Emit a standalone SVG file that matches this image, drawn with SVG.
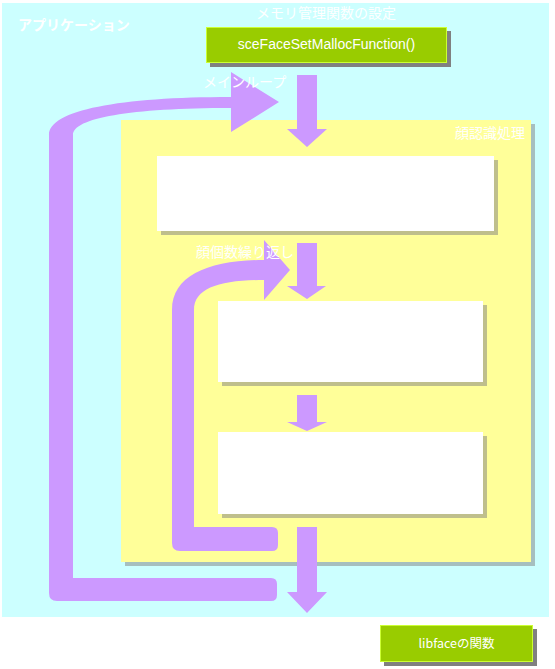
<svg xmlns="http://www.w3.org/2000/svg" width="555" height="669" viewBox="0 0 555 669">
<style>
.lbl{font-family:"Noto Sans CJK JP","Liberation Sans",sans-serif;font-size:14px;fill:#ffffff}
.lat{font-family:"Liberation Sans","Noto Sans CJK JP",sans-serif;font-size:14px;fill:#ffffff}
.small{font-size:12.5px}
.arr{fill:#cc99ff}
.shadow{fill:#808080;opacity:0.5}
.gshadow{fill:#808080}
.white{fill:#ffffff}
.green{fill:#99cc00;stroke:#ccff33;stroke-width:1}
</style>
<rect x="0" y="0" width="555" height="669" fill="#ffffff"/>
<g id="application">
  <rect x="2" y="3" width="547" height="614" fill="#ccffff"/>
</g>
<g id="face-recognition">
  <rect class="shadow" x="125" y="124" width="410" height="442"/>
  <rect x="121" y="120" width="410" height="442" fill="#ffff99"/>
</g>
<g id="box1">
  <rect class="shadow" x="161" y="160" width="337" height="75"/>
  <rect class="white" x="157" y="156" width="337" height="75"/>
</g>
<g id="box2">
  <rect class="shadow" x="222" y="305" width="265" height="81"/>
  <rect class="white" x="218" y="301" width="265" height="81"/>
</g>
<g id="box3">
  <rect class="shadow" x="222" y="436" width="265" height="82"/>
  <rect class="white" x="218" y="432" width="265" height="82"/>
</g>
<g id="connectors">
  <path class="arr" d="M231 72 L279 102 L231 132 L231 108 C130 108 73 118 73 135 L73 578 L271 578 Q277 578 277 584 L277 595 Q277 601 271 601 L57 601 Q49 601 49 593 L49 135 C49 110 120 97 231 97 Z"/>
  <path class="arr" d="M264 240 L290 270 L264 300 L264 280 C220 280 194 288 194 310 L194 527 L272 527 Q278 527 278 533 L278 545 Q278 551 272 551 L180 551 Q172 551 172 543 L172 310 C172 275 210 260 264 260 Z"/>
  <path class="arr" d="M297 75 L317 75 L317 129 L327 129 L307 147 L287 129 L297 129 Z"/>
  <path class="arr" d="M297 243 L317 243 L317 286 L326 286 L307 299 L287 286 L297 286 Z"/>
  <path class="arr" d="M297 395 L317 395 L317 422 L327 422 L307 431 L287 422 L297 422 Z"/>
  <path class="arr" d="M297 527 L317 527 L317 592 L327 592 L307 613 L287 592 L297 592 Z"/>
</g>
<g id="malloc-func">
  <rect class="gshadow" x="210" y="31" width="241" height="36"/>
  <rect class="green" x="206.5" y="27.5" width="240" height="35"/>
  <text class="lat" x="326.5" y="49" text-anchor="middle">sceFaceSetMallocFunction()</text>
</g>
<g id="libface-legend">
  <rect class="gshadow" x="384" y="629" width="153" height="37"/>
  <rect class="green" x="380.5" y="625.5" width="152" height="36"/>
  <text class="lbl small" x="456.5" y="648" text-anchor="middle">libfaceの関数</text>
</g>
<g id="labels">
  <text class="lbl" x="18" y="30" font-weight="bold">アプリケーション</text>
  <text class="lbl" x="326" y="18" text-anchor="middle">メモリ管理関数の設定</text>
  <text class="lbl" x="203" y="87">メインループ</text>
  <text class="lbl" x="455" y="138">顔認識処理</text>
  <text class="lbl" x="196" y="257">顔個数繰り返し</text>
</g>
</svg>
